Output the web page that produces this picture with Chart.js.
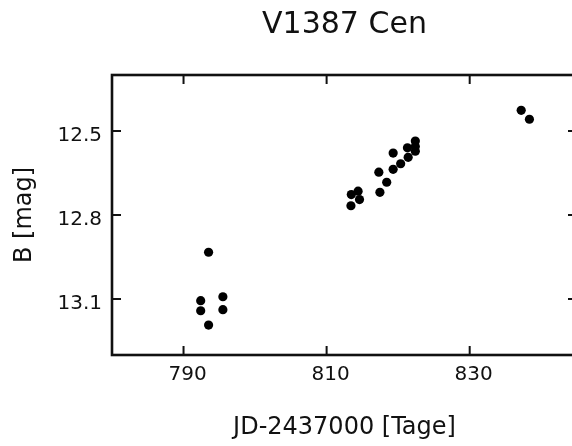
<!DOCTYPE html>
<html><head><meta charset="utf-8">
<script src="https://cdn.jsdelivr.net/npm/chart.js@4/dist/chart.umd.min.js"></script>
<style>html,body{margin:0;padding:0;overflow:hidden;background:#fff}#wrap{width:582px;height:446px;position:relative}</style>
</head><body><div id="wrap"><canvas id="c" width="582" height="446"></canvas></div>
<script>
const chartTitle = 'V1387 Cen';
const xAxisLabel = 'JD-2437000 [Tage]';
const yAxisLabel = 'B [mag]';
const jd = [793.5, 792.4, 795.5, 792.4, 795.5, 793.5,
            813.4, 813.45, 814.4, 814.6, 817.45, 818.4, 817.3, 819.3, 819.3, 820.35, 821.4, 821.3, 822.4, 822.4, 822.4,
            837.2, 838.35];
const bMag = [12.933, 13.106, 13.092, 13.142, 13.138, 13.193,
              12.767, 12.727, 12.715, 12.745, 12.719, 12.683, 12.647, 12.637, 12.579, 12.617, 12.594, 12.560, 12.572, 12.555, 12.536,
              12.426, 12.458];
const xTickValues = [790, 810, 830];
const yTickValues = [12.5, 12.8, 13.1];
const xRange = [780, 845];
const yRange = [12.3, 13.3];

const FONT = "'DejaVu Sans', sans-serif";
const INK = '#111';

const framePlugin = {
  id: 'frame',
  beforeDatasetsDraw(chart) {
    const {ctx, chartArea: a, scales} = chart;
    ctx.save();
    ctx.strokeStyle = INK;
    ctx.lineWidth = 2;
    const tl = 9;
    ctx.beginPath();
    xTickValues.forEach(v => {
      const p = scales.x.getPixelForValue(v);
      ctx.moveTo(p, a.bottom); ctx.lineTo(p, a.bottom - tl);
      ctx.moveTo(p, a.top); ctx.lineTo(p, a.top + tl);
    });
    yTickValues.forEach(v => {
      const p = scales.y.getPixelForValue(v);
      ctx.moveTo(a.left, p); ctx.lineTo(a.left + tl, p);
      ctx.moveTo(a.right, p); ctx.lineTo(a.right - tl, p);
    });
    ctx.stroke();
    ctx.lineWidth = 2.6;
    ctx.strokeRect(a.left, a.top, a.right - a.left, a.bottom - a.top);
    ctx.restore();
  },
  afterDraw(chart) {
    const {ctx, chartArea: a} = chart;
    ctx.save();
    ctx.fillStyle = INK;
    ctx.font = "30px " + FONT;
    ctx.textAlign = 'center';
    ctx.textBaseline = 'alphabetic';
    ctx.fillText(chartTitle, (a.left + a.right) / 2, 33);
    ctx.restore();
  }
};

new Chart(document.getElementById('c'), {
  type: 'scatter',
  data: {
    datasets: [{
      data: jd.map((x, i) => ({x: x, y: bMag[i]})),
      backgroundColor: '#000',
      borderWidth: 0,
      pointRadius: 4.6,
      pointHoverRadius: 4.6
    }]
  },
  options: {
    responsive: false,
    devicePixelRatio: 1,
    animation: false,
    layout: {padding: {top: 75, right: 5, left: 0, bottom: 0}},
    plugins: {legend: {display: false}, tooltip: {enabled: false}, title: {display: false}},
    scales: {
      x: {
        type: 'linear', position: 'bottom', min: xRange[0], max: xRange[1],
        grid: {display: false, drawTicks: false}, border: {display: false},
        afterBuildTicks: s => { s.ticks = xTickValues.map(v => ({value: v})); },
        afterFit: s => { s.height = 91; },
        ticks: {font: {family: FONT, size: 20}, color: INK, padding: 8, labelOffset: 4, maxRotation: 0,
                callback: v => String(v)},
        title: {display: true, text: xAxisLabel, font: {family: FONT, size: 24}, color: INK, padding: {top: 0, bottom: 4}}
      },
      y: {
        type: 'linear', position: 'left', reverse: true, min: yRange[0], max: yRange[1],
        grid: {display: false, drawTicks: false}, border: {display: false},
        afterBuildTicks: s => { s.ticks = yTickValues.map(v => ({value: v})); },
        afterFit: s => { s.width = 112; },
        ticks: {font: {family: FONT, size: 20}, color: INK, padding: 10, labelOffset: 5,
                callback: v => v.toFixed(1)},
        title: {display: true, text: yAxisLabel, font: {family: FONT, size: 24}, color: INK, padding: {top: 10, bottom: 0}}
      }
    }
  },
  plugins: [framePlugin]
});
</script>
</body></html>
